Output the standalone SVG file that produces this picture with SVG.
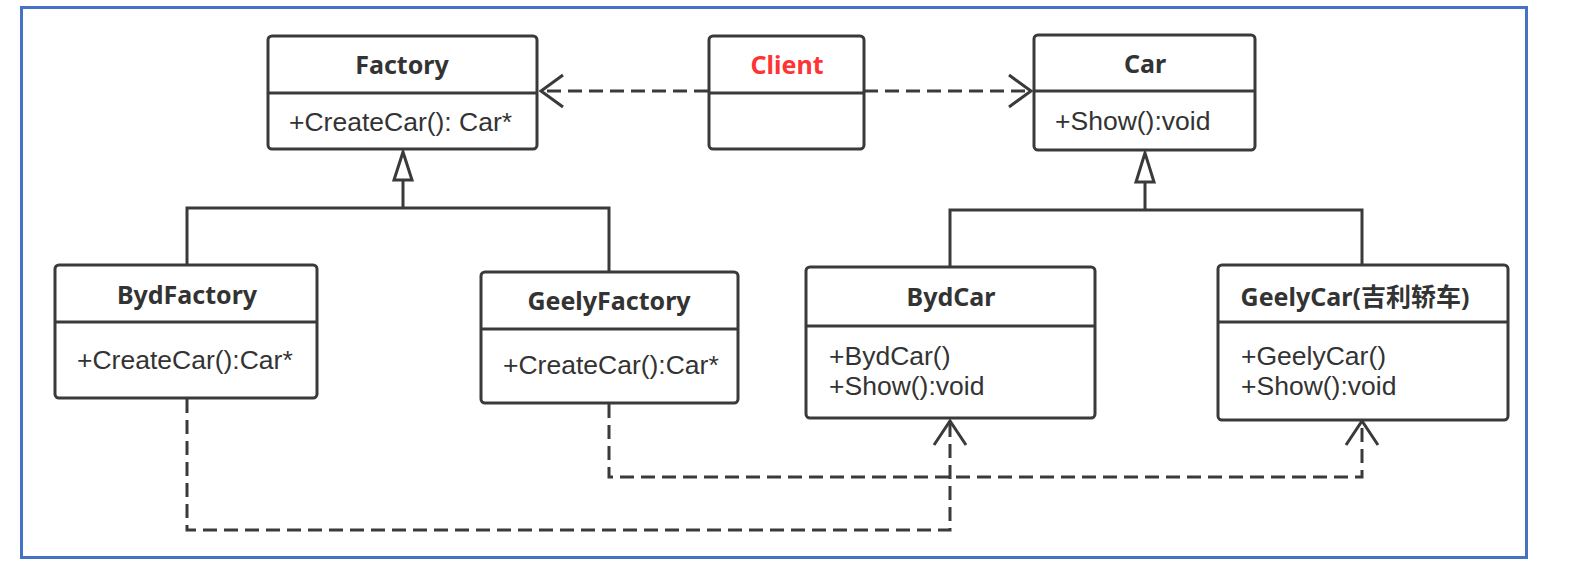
<svg xmlns="http://www.w3.org/2000/svg" width="1571" height="578" viewBox="0 0 1571 578">
<style>
.box{fill:#fff;stroke:#3a3a3a;stroke-width:3}
.div{stroke:#3a3a3a;stroke-width:3}
.t{font-family:"Noto Sans","Noto Sans CJK SC",sans-serif;font-weight:bold;font-size:25px;fill:#333;text-anchor:middle}
.m{font-family:"Liberation Sans","Noto Sans CJK SC",sans-serif;font-size:26.5px;fill:#333}
.solid{fill:none;stroke:#3a3a3a;stroke-width:3}
.dash{fill:none;stroke:#3a3a3a;stroke-width:3;stroke-dasharray:14,7}
.open{fill:none;stroke:#3a3a3a;stroke-width:3}
.tri{fill:#fff;stroke:#3a3a3a;stroke-width:3}
</style>
<rect x="0" y="0" width="1571" height="578" fill="#fff"/>
<rect x="21.5" y="7.5" width="1505" height="550" fill="none" stroke="#4472C4" stroke-width="3"/>
<g id="connectors">
<path class="solid" d="M187 265 V208 H609 V272 M403 208 V180"/>
<path class="tri" d="M403 152 L394 180 L412 180 Z"/>
<path class="solid" d="M950 267 V210 H1362 V265 M1145 210 V182"/>
<path class="tri" d="M1145 153 L1136 182 L1154 182 Z"/>
<path class="dash" d="M708 91 H541"/>
<path class="open" d="M563 75 L541 91 L563 107"/>
<path class="dash" d="M864 91 H1031"/>
<path class="open" d="M1009 75 L1031 91 L1009 107"/>
<path class="dash" d="M187 399 V530 H950 V421"/>
<path class="open" d="M934 445 L950 421 L966 445"/>
<path class="dash" d="M609 404 V477 H1362 V421"/>
<path class="open" d="M1346 445 L1362 421 L1378 445"/>
</g>
<g id="Factory">
<rect class="box" x="268" y="36" width="269" height="113" rx="4"/>
<line class="div" x1="268" y1="93" x2="537" y2="93"/>
<text class="t" x="402" y="74">Factory</text>
<text class="m" x="289" y="131">+CreateCar(): Car*</text>
</g>
<g id="Client">
<rect class="box" x="709" y="36" width="155" height="113" rx="4"/>
<line class="div" x1="709" y1="93" x2="864" y2="93"/>
<text class="t" x="787" y="74" style="fill:#FF3333">Client</text>
</g>
<g id="Car">
<rect class="box" x="1034" y="35" width="221" height="115" rx="4"/>
<line class="div" x1="1034" y1="91" x2="1255" y2="91"/>
<text class="t" x="1145" y="73">Car</text>
<text class="m" x="1055" y="130">+Show():void</text>
</g>
<g id="BydFactory">
<rect class="box" x="55" y="265" width="262" height="133" rx="4"/>
<line class="div" x1="55" y1="322" x2="317" y2="322"/>
<text class="t" x="187" y="304">BydFactory</text>
<text class="m" x="77" y="369">+CreateCar():Car*</text>
</g>
<g id="GeelyFactory">
<rect class="box" x="481" y="272" width="257" height="131" rx="4"/>
<line class="div" x1="481" y1="329" x2="738" y2="329"/>
<text class="t" x="609" y="310">GeelyFactory</text>
<text class="m" x="503" y="374">+CreateCar():Car*</text>
</g>
<g id="BydCar">
<rect class="box" x="806" y="267" width="289" height="151" rx="4"/>
<line class="div" x1="806" y1="326" x2="1095" y2="326"/>
<text class="t" x="951" y="306">BydCar</text>
<text class="m" x="829" y="365">+BydCar()</text>
<text class="m" x="829" y="395">+Show():void</text>
</g>
<g id="GeelyCar">
<rect class="box" x="1218" y="265" width="290" height="155" rx="4"/>
<line class="div" x1="1218" y1="322" x2="1508" y2="322"/>
<text class="t" x="1355" y="306">GeelyCar(吉利轿车)</text>
<text class="m" x="1241" y="365">+GeelyCar()</text>
<text class="m" x="1241" y="395">+Show():void</text>
</g>
</svg>
